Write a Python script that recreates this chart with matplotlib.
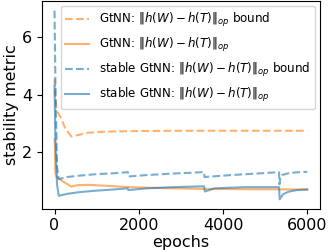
import numpy as np
import matplotlib.pyplot as plt

# Curvas
ep_gt_bound = [0, 20, 50, 150, 250, 400, 550, 800, 1200, 2000, 3000, 4000, 5000, 6000]
gt_bound = [4.55, 3.9, 3.45, 3.2, 2.85, 2.55, 2.6, 2.68, 2.72, 2.74, 2.75, 2.75, 2.75, 2.75]

ep_gt = [0, 10, 20, 50, 100, 250, 400, 550, 800, 1200, 1800, 2500, 3500, 4500, 6000]
gt = [2.45, 2.2, 1.3, 1.15, 1.1, 0.95, 0.82, 0.87, 0.88, 0.85, 0.8, 0.77, 0.74, 0.73, 0.72]

ep_st_bound = [0, 20, 60, 100, 300, 600, 1000, 1400, 1740, 1750, 2200, 2800, 3550, 3560,
               4200, 4800, 5330, 5340, 5360, 5400, 5600, 6000]
st_bound = [6.9, 4.5, 1.5, 1.08, 1.15, 1.2, 1.25, 1.28, 1.32, 1.17, 1.22, 1.27, 1.32, 1.15,
            1.22, 1.27, 1.32, 0.9, 1.1, 1.22, 1.3, 1.33]

ep_st = [0, 20, 60, 100, 300, 600, 1000, 1400, 1740, 1750, 2200, 2800, 3550, 3570,
         3800, 4500, 5330, 5345, 5420, 5550, 5750, 6000]
st = [4.3, 2.5, 0.9, 0.5, 0.57, 0.63, 0.68, 0.72, 0.76, 0.7, 0.76, 0.8, 0.83, 0.65,
      0.76, 0.8, 0.8, 0.38, 0.55, 0.64, 0.7, 0.72]

plt.figure(figsize=(3.35, 2.5), dpi=100)

plt.plot(ep_gt_bound, gt_bound, '--', color='tab:orange', alpha=0.6,
         label=r"GtNN: $\Vert h(W)-h(T)\Vert_{op}$ bound")
plt.plot(ep_gt, gt, '-', color='tab:orange', alpha=0.6,
         label=r"GtNN: $\Vert h(W)-h(T)\Vert_{op}$")
plt.plot(ep_st_bound, st_bound, '--', color='tab:blue', alpha=0.6,
         label=r"stable GtNN: $\Vert h(W)-h(T)\Vert_{op}$ bound")
plt.plot(ep_st, st, '-', color='tab:blue', alpha=0.6,
         label=r"stable GtNN: $\Vert h(W)-h(T)\Vert_{op}$")

plt.xlabel("epochs", fontsize=11.5, labelpad=1)
plt.ylabel("stability metric", fontsize=11.5, labelpad=2)
plt.xticks([0, 2000, 4000, 6000], fontsize=11.5)
plt.yticks([2, 4, 6], fontsize=11.5)
plt.legend(fontsize=8.6, loc='upper right', handlelength=2.0,
           borderaxespad=0.4, labelspacing=0.6)

plt.subplots_adjust(left=0.125, right=0.955, top=0.995, bottom=0.165)
plt.savefig("out.png")
